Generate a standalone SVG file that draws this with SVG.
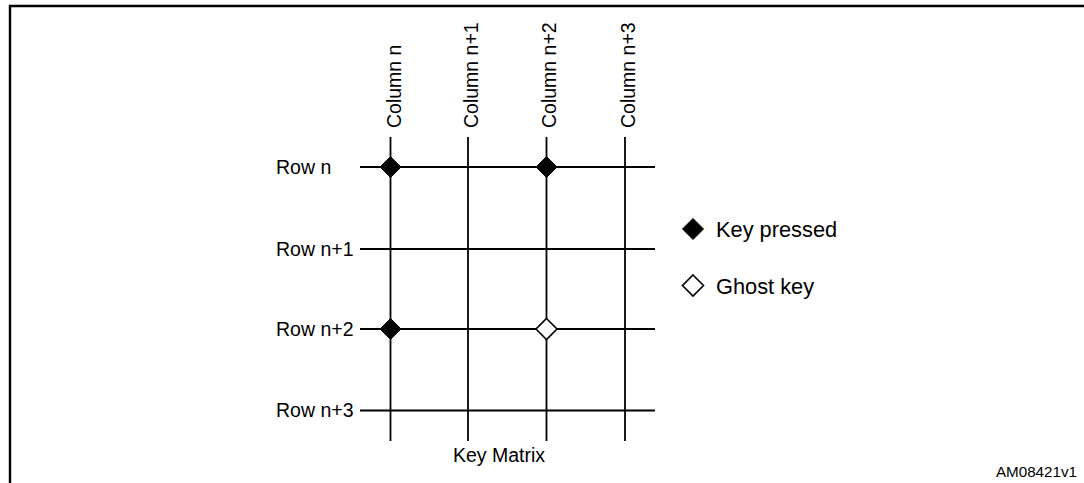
<svg xmlns="http://www.w3.org/2000/svg" width="1084" height="483" viewBox="0 0 1084 483">
<style>
text{font-family:"Liberation Sans",Arial,sans-serif;fill:#000}
.lbl{font-size:19.5px}
.leg{font-size:21.8px}
.ln{stroke:#000;stroke-width:1.8;fill:none}
.key{fill:#000;stroke:#000;stroke-width:1}
.ghost{fill:#fff;stroke:#000;stroke-width:1.6}
</style>
<defs>
<path id="dia" d="M0,-10.5 L10.5,0 L0,10.5 L-10.5,0 Z"/>
</defs>
<rect width="1084" height="483" fill="#fff"/>
<path d="M10,483 V6 H1084" stroke="#000" stroke-width="2.4" fill="none"/>
<g id="connectors">
<line class="ln" x1="390.5" y1="137" x2="390.5" y2="441"/>
<line class="ln" x1="468" y1="137" x2="468" y2="441"/>
<line class="ln" x1="546.5" y1="137" x2="546.5" y2="441"/>
<line class="ln" x1="625" y1="137" x2="625" y2="441"/>
<line class="ln" x1="360" y1="167" x2="655" y2="167"/>
<line class="ln" x1="360" y1="249" x2="655" y2="249"/>
<line class="ln" x1="360" y1="329" x2="655" y2="329"/>
<line class="ln" x1="360" y1="410.5" x2="655" y2="410.5"/>
</g>
<g id="col-labels">
<text class="lbl" transform="translate(400.5,128) rotate(-90)">Column n</text>
<text class="lbl" transform="translate(477.5,128) rotate(-90)">Column n+1</text>
<text class="lbl" transform="translate(556,128) rotate(-90)">Column n+2</text>
<text class="lbl" transform="translate(634.5,128) rotate(-90)">Column n+3</text>
</g>
<g id="row-labels">
<text class="lbl" x="276" y="173.5">Row n</text>
<text class="lbl" x="276" y="255.5">Row n+1</text>
<text class="lbl" x="276" y="335.5">Row n+2</text>
<text class="lbl" x="276" y="417">Row n+3</text>
</g>
<g id="keys">
<use href="#dia" class="key" x="390.5" y="167"/>
<use href="#dia" class="key" x="546.5" y="167"/>
<use href="#dia" class="key" x="390.5" y="329"/>
<use href="#dia" class="ghost" x="546.5" y="329"/>
</g>
<g id="legend">
<use href="#dia" class="key" x="693" y="229"/>
<text class="leg" x="716" y="237">Key pressed</text>
<use href="#dia" class="ghost" x="693" y="285.5"/>
<text class="leg" x="716" y="294">Ghost key</text>
</g>
<text x="453" y="462" class="lbl">Key Matrix</text>
<text x="1077" y="477" font-size="15.2" text-anchor="end">AM08421v1</text>
</svg>
